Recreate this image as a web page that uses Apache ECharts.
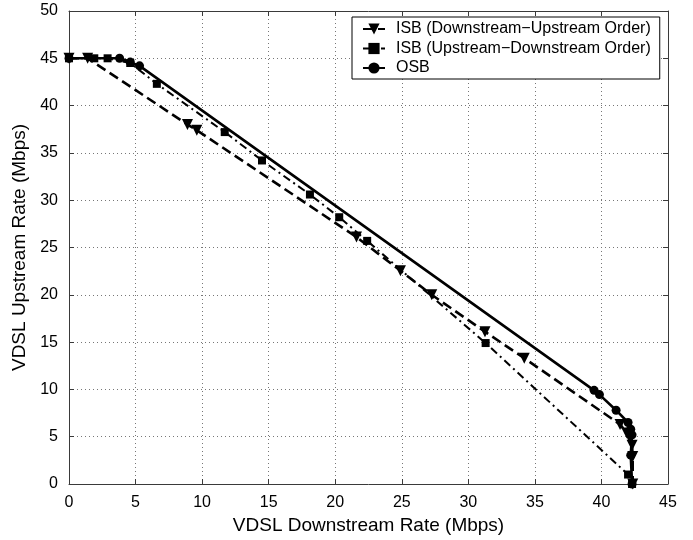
<!DOCTYPE html>
<html><head><meta charset="utf-8">
<script src="https://cdn.jsdelivr.net/npm/echarts@6/dist/echarts.min.js"></script>
<style>html,body{margin:0;padding:0;background:#fff}#c{width:693px;height:540px}</style>
</head><body><div id="c"></div><script>
// Series names
const seriesNames = ['ISB (Downstream\u2212Upstream Order)', 'ISB (Upstream\u2212Downstream Order)', 'OSB'];
// ISB Downstream-Upstream order (dashed, down triangles)
const isbDUx = [0, 1.4, 8.9, 9.6, 21.6, 24.9, 27.25, 31.25, 34.2, 41.4, 41.9, 42.15, 42.3, 42.35, 42.35];
const isbDUy = [45, 45, 38.0, 37.4, 26.1, 22.55, 20.0, 16.1, 13.3, 6.3, 5.4, 4.8, 4.1, 2.9, 0];
// ISB Upstream-Downstream order (dash-dot, squares)
const isbUDx = [0, 1.9, 2.9, 4.6, 6.6, 11.7, 14.5, 18.1, 20.3, 22.4, 31.3, 42.0, 42.3];
const isbUDy = [45, 45, 45, 44.5, 42.3, 37.2, 34.2, 30.6, 28.2, 25.7, 14.9, 1.0, 0];
// OSB (solid, circles)
const osbX = [0, 3.8, 4.6, 5.3, 39.45, 39.85, 41.1, 42.0, 42.2, 42.3, 42.2, 42.3];
const osbY = [45, 45, 44.6, 44.2, 9.9, 9.45, 7.8, 6.5, 5.8, 5.2, 3.05, 0];
// Axis ticks
const xMin = 0, xMax = 45, xStep = 5;
const yMin = 0, yMax = 50, yStep = 5;

const pairs = (xs, ys) => xs.map((x, i) => [x, ys[i]]);
const font = 'Liberation Sans';
const axisColor = '#3a3a3a';

function mkX(pos, show) {
  return {
    type: 'value', position: pos, min: xMin, max: xMax, interval: xStep,
    name: show ? 'VDSL Downstream Rate (Mbps)' : '', nameLocation: 'middle', nameGap: 32,
    nameTextStyle: { fontFamily: font, fontSize: 19, color: '#000' },
    axisLine: { show: true, onZero: false, lineStyle: { color: axisColor, width: 1 } },
    axisTick: { show: true, inside: true, length: 5, lineStyle: { color: axisColor } },
    axisLabel: { show: show, margin: 11, fontFamily: font, fontSize: 16, color: '#000' },
    splitLine: { show: show, lineStyle: { color: '#777', type: [1, 3], width: 1 } }
  };
}
function mkY(pos, show) {
  return {
    type: 'value', position: pos, min: yMin, max: yMax, interval: yStep,
    name: show ? 'VDSL Upstream Rate (Mbps)' : '', nameLocation: 'middle', nameGap: 26,
    nameTextStyle: { fontFamily: font, fontSize: 19, color: '#000' },
    axisLine: { show: true, onZero: false, lineStyle: { color: axisColor, width: 1 } },
    axisTick: { show: true, inside: true, length: 5, lineStyle: { color: axisColor } },
    axisLabel: { show: show, margin: 11, fontFamily: font, fontSize: 16, color: '#000' },
    splitLine: { show: show, lineStyle: { color: '#777', type: [1, 3], width: 1 } }
  };
}

const chart = echarts.init(document.getElementById('c'), null, { renderer: 'canvas' });
chart.setOption({
  animation: false,
  backgroundColor: '#fff',
  grid: { left: 69, right: 25, top: 11, bottom: 56 },
  xAxis: [mkX('bottom', true), mkX('top', false)],
  yAxis: [mkY('left', true), mkY('right', false)],
  legend: {
    orient: 'vertical', left: 352, top: 17,
    backgroundColor: '#fff', borderColor: '#000', borderWidth: 1,
    padding: [4, 9, 3, 10], itemGap: 3.5, itemWidth: 22, itemHeight: 14,
    textStyle: { fontFamily: font, fontSize: 16, lineHeight: 15, color: '#000', padding: [0, 0, 0, 6] },
    data: seriesNames
  },
  series: [
    {
      name: seriesNames[0], type: 'line', data: pairs(isbDUx, isbDUy),
      symbol: 'triangle', symbolRotate: 180, symbolSize: 11,
      lineStyle: { color: '#000', width: 2.6, type: [10, 5] },
      itemStyle: { color: '#000' }, z: 3
    },
    {
      name: seriesNames[1], type: 'line', data: pairs(isbUDx, isbUDy),
      symbol: 'rect', symbolSize: 8,
      lineStyle: { color: '#000', width: 2, type: [8, 4, 2, 4] },
      itemStyle: { color: '#000' }, z: 3
    },
    {
      name: seriesNames[2], type: 'line', data: pairs(osbX, osbY),
      symbol: 'circle', symbolSize: 9,
      lineStyle: { color: '#000', width: 2.6, type: 'solid' },
      itemStyle: { color: '#000' }, z: 4
    }
  ]
});
</script></body></html>
